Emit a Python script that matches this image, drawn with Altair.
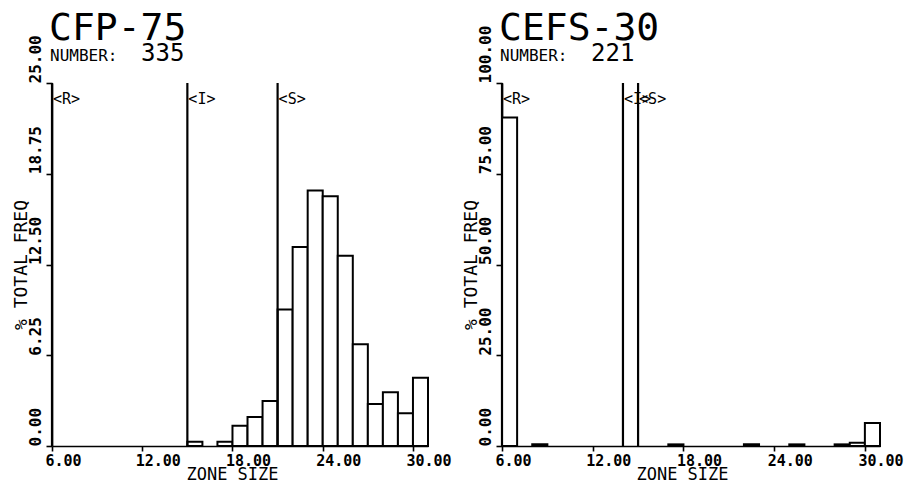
import altair as alt
import pandas as pd

# ---------------- data ----------------
x_ticks = [6, 12, 18, 24, 30]
x_domain = [6, 31]

a_title = "CFP-75"
a_number = "335"
a_bin_start = [15, 17, 18, 19, 20, 21, 22, 23, 24, 25, 26, 27, 28, 29, 30]
a_pct = [0.3, 0.3, 1.4, 2.0, 3.1, 9.4, 13.7, 17.6, 17.2, 13.1, 7.0, 2.9, 3.7, 2.25, 4.7]
a_marks = [6, 15, 21]
a_mark_labels = ["<R>", "<I>", "<S>"]
a_ymax = 25
a_yticks = [0, 6.25, 12.5, 18.75, 25]

b_title = "CEFS-30"
b_number = "221"
b_bin_start = [6, 8, 17, 22, 25, 28, 29, 30]
b_pct = [90.5, 0.45, 0.45, 0.45, 0.45, 0.45, 0.9, 6.33]
b_marks = [6, 14, 15]
b_mark_labels = ["<R>", "<I>", "<S>"]
b_ymax = 100
b_yticks = [0, 25, 50, 75, 100]

MONO = "DejaVu Sans Mono"
H = 363


def panel(title, number, starts, pct, marks, labels, ymax, yticks, width):
    df = pd.DataFrame({"start": starts, "end": [s + 1 for s in starts], "pct": pct})
    mdf = pd.DataFrame({"start": marks, "label": labels})

    xenc = alt.X(
        "start:Q",
        scale=alt.Scale(domain=x_domain, nice=False, zero=False),
        axis=alt.Axis(
            values=x_ticks, format=".2f", title="ZONE SIZE",
            labelAlign="left", labelOffset=-7, labelPadding=2, tickSize=5,
            labelFont=MONO, labelFontSize=15, labelFontWeight="bold",
            titleFont=MONO, titleFontSize=17, titleFontWeight="normal",
            titleX=180, titleAlign="center", titlePadding=-2,
        ),
    )
    yenc = alt.Y(
        "pct:Q",
        scale=alt.Scale(domain=[0, ymax], nice=False),
        axis=alt.Axis(
            values=yticks, format=".2f", title="% TOTAL FREQ",
            labelAngle=270, labelAlign="left", labelBaseline="bottom",
            labelPadding=3, tickSize=6,
            labelFont=MONO, labelFontSize=16, labelFontWeight="bold",
            titleFont=MONO, titleFontSize=18, titleFontWeight="normal",
            titleAngle=270, titleX=-31, titleY=H / 2, titleAlign="center",
            titleBaseline="middle",
        ),
    )

    bars = alt.Chart(df).mark_rect(fill="white", stroke="black", strokeWidth=2).encode(
        x=xenc, x2="end:Q", y=yenc, y2=alt.datum(0)
    )
    rules = alt.Chart(mdf).mark_rule(color="black", strokeWidth=2.2).encode(x="start:Q")
    rlabels = alt.Chart(mdf).mark_text(
        align="left", baseline="middle", dx=1, font=MONO, fontSize=15, color="black"
    ).encode(x="start:Q", y=alt.value(16), text="label:N")

    tdf = pd.DataFrame({"t": [title], "n": ["NUMBER:"], "c": [number]})
    t1 = alt.Chart(tdf).mark_text(
        align="left", baseline="alphabetic", font=MONO, fontSize=38, color="black"
    ).encode(x=alt.value(-3), y=alt.value(-43), text="t:N")
    t2 = alt.Chart(tdf).mark_text(
        align="left", baseline="alphabetic", font=MONO, fontSize=16, color="black"
    ).encode(x=alt.value(-2), y=alt.value(-22), text="n:N")
    t3 = alt.Chart(tdf).mark_text(
        align="left", baseline="alphabetic", font=MONO, fontSize=24, color="black"
    ).encode(x=alt.value(89), y=alt.value(-22), text="c:N")

    return alt.layer(bars, rules, rlabels, t1, t2, t3).properties(width=width, height=H)


left = panel(a_title, a_number, a_bin_start, a_pct, a_marks, a_mark_labels, a_ymax, a_yticks, 376)
right = panel(b_title, b_number, b_bin_start, b_pct, b_marks, b_mark_labels, b_ymax, b_yticks, 378)

chart = (
    alt.hconcat(left, right, spacing=10)
    .properties(padding={"left": 4, "top": 2, "right": 0, "bottom": 0}, background="white")
    .configure_view(stroke=None)
    .configure_axis(
        grid=False, domainColor="black", domainWidth=1.6, tickColor="black",
        tickWidth=1.6, labelColor="black", titleColor="black",
    )
)

chart.save("out.html", embed_options={"renderer": "svg", "actions": False})
